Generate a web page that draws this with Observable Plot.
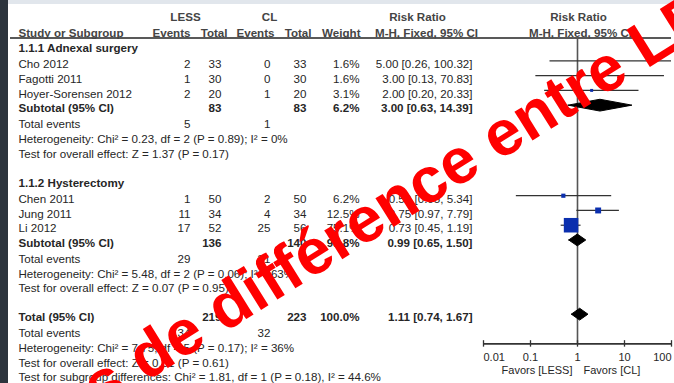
<!DOCTYPE html>
<html>
<head>
<meta charset="utf-8">
<script src="https://cdn.jsdelivr.net/npm/d3@7"></script>
<script src="https://cdn.jsdelivr.net/npm/@observablehq/plot@0.6"></script>
<style>
  html, body { margin: 0; padding: 0; background: #fff; }
  #wrap { position: relative; width: 674px; height: 383px; overflow: hidden; background: #fff; }
  #chart { position: absolute; left: 0; top: 0; }
  #band { position: absolute; left: 0; top: 0; width: 674px; height: 4px; background: #e1e6ec; }
  #strip { position: absolute; left: 0; top: 0; width: 8px; height: 383px; background: #2c343d; }
  #stamp { position: absolute; left: 0; top: 0; pointer-events: none; }
</style>
</head>
<body>
<div id="wrap">
  <div id="chart"></div>
  <div id="band"></div>
  <div id="strip"></div>
  <svg id="stamp" width="674" height="383"></svg>
</div>
<script>
// ---- Study-level data: LESS vs CL ----
const studies = ["Cho 2012", "Fagotti 2011", "Hoyer-Sorensen 2012", "Chen 2011", "Jung 2011", "Li 2012"];
const studyGroup = [0, 0, 0, 1, 1, 1];
const lessEvents = [2, 1, 2, 1, 11, 17];
const lessTotal = [33, 30, 20, 50, 34, 52];
const clEvents = [0, 0, 1, 2, 4, 25];
const clTotal = [33, 30, 20, 50, 34, 56];
const weight = [1.6, 1.6, 3.1, 6.2, 12.5, 75.1];
const rr = [5.00, 3.00, 2.00, 0.50, 2.75, 0.73];
const rrLow = [0.26, 0.13, 0.20, 0.05, 0.97, 0.45];
const rrHigh = [100.32, 70.83, 20.33, 5.34, 7.79, 1.19];

// ---- Subgroups ----
const groups = ["1.1.1 Adnexal surgery", "1.1.2 Hysterectomy"];
const groupLessTotal = [83, 136];
const groupClTotal = [83, 140];
const groupLessEvents = [5, 29];
const groupClEvents = [1, 31];
const groupWeight = [6.2, 93.8];
const groupRR = [3.00, 0.99];
const groupLow = [0.63, 0.65];
const groupHigh = [14.39, 1.50];
const groupHet = [
  "Heterogeneity: Chi² = 0.23, df = 2 (P = 0.89); I² = 0%",
  "Heterogeneity: Chi² = 5.48, df = 2 (P = 0.06); I² = 63%"
];
const groupTest = [
  "Test for overall effect: Z = 1.37 (P = 0.17)",
  "Test for overall effect: Z = 0.07 (P = 0.95)"
];

// ---- Pooled result ----
const totalLessN = 219, totalClN = 223, totalWeight = 100.0;
const totalRR = 1.11, totalLow = 0.74, totalHigh = 1.67;
const totalLessEvents = 34, totalClEvents = 32;
const totalHet = "Heterogeneity: Chi² = 7.75, df = 5 (P = 0.17); I² = 36%";
const totalTest = "Test for overall effect: Z = 0.51 (P = 0.61)";
const subgroupTest = "Test for subgroup differences: Chi² = 1.81, df = 1 (P = 0.18), I² = 44.6%";

// ---- Headers and axis labels ----
const headerTop = ["LESS", "CL", "Risk Ratio", "Risk Ratio"];
const headerCols = ["Study or Subgroup", "Events", "Total", "Events", "Total", "Weight", "M-H, Fixed, 95% CI", "M-H, Fixed, 95% CI"];
const axisTicks = [0.01, 0.1, 1, 10, 100];
const axisTickLabels = ["0.01", "0.1", "1", "10", "100"];
const favorLabels = ["Favors [LESS]", "Favors [CL]"];
const stampLead = "Pas de";
const stampRest = "différence entre LESS et CL";

// ---- Row layout (in line slots) ----
const fmt = v => v.toFixed(2);
const ci = (m, l, h) => `${fmt(m)} [${fmt(l)}, ${fmt(h)}]`;
const pct = w => w.toFixed(1) + "%";

const rows = [], studyRows = [], diamonds = [];
const hdr2Slot = 1.08;
let slot = hdr2Slot;
const add = (gap, r) => { slot += gap; const row = {slot, bold: false, ...r}; rows.push(row); return row; };

groups.forEach((g, gi) => {
  add(gi === 0 ? 1.02 : 2.0, {label: g, bold: true});
  let first = true;
  studies.forEach((s, i) => {
    if (studyGroup[i] !== gi) return;
    const r = add(first ? 1.08 : 1, {
      label: s, le: lessEvents[i], lt: lessTotal[i], ce: clEvents[i], ct: clTotal[i],
      w: pct(weight[i]), rr: ci(rr[i], rrLow[i], rrHigh[i])
    });
    first = false;
    studyRows.push({slot: r.slot, est: rr[i], lo: rrLow[i], hi: rrHigh[i], weight: weight[i]});
  });
  const sub = add(1, {
    label: "Subtotal (95% CI)", bold: true, lt: groupLessTotal[gi], ct: groupClTotal[gi],
    w: pct(groupWeight[gi]), rr: ci(groupRR[gi], groupLow[gi], groupHigh[gi])
  });
  diamonds.push({slot: sub.slot, est: groupRR[gi], lo: groupLow[gi], hi: groupHigh[gi]});
  add(1.06, {label: "Total events", le: groupLessEvents[gi], ce: groupClEvents[gi]});
  add(1, {label: groupHet[gi]});
  add(1, {label: groupTest[gi]});
});
const tot = add(1.97, {
  label: "Total (95% CI)", bold: true, lt: totalLessN, ct: totalClN,
  w: pct(totalWeight), rr: ci(totalRR, totalLow, totalHigh)
});
diamonds.push({slot: tot.slot, est: totalRR, lo: totalLow, hi: totalHigh});
add(1.06, {label: "Total events", le: totalLessEvents, ce: totalClEvents});
add(1, {label: totalHet});
add(1, {label: totalTest});
add(0.98, {label: subgroupTest});

const ruleSlot = 1.39;
const axisSlot = tot.slot + 1.78;
const diamondHalf = 0.4;
const diamondPts = diamonds.flatMap((d, k) => [
  {x: d.lo, y: d.slot, k}, {x: d.est, y: d.slot - diamondHalf, k},
  {x: d.hi, y: d.slot, k}, {x: d.est, y: d.slot + diamondHalf, k}, {x: d.lo, y: d.slot, k}
]);
const forestDy = -3.5; // graphics sit a little above the text midline

// ---- Text columns ----
const ML = 10;
const ink = "#262626";
const headInk = "#444";
function column(field, px, anchor) {
  const opts = bold => ({y: "slot", text: field, frameAnchor: "left", dx: px - ML, textAnchor: anchor,
    fontWeight: bold ? "bold" : "normal", fill: ink});
  return [
    Plot.text(rows.filter(r => r.bold && r[field] != null), opts(true)),
    Plot.text(rows.filter(r => !r.bold && r[field] != null), opts(false))
  ];
}
const topPos = [[185, "middle"], [269, "middle"], [417, "middle"]];
const colPos = [[18, "start"], [190, "end"], [227, "end"], [274, "end"], [311, "end"], [360, "end"], [426, "middle"]];
const headerMarks = [
  ...topPos.map(([px, a], i) => Plot.text([headerTop[i]], {y: 0, frameAnchor: "left", dx: px - ML, textAnchor: a, fontWeight: "bold", fill: headInk})),
  Plot.text([headerTop[3]], {x: 1, y: 0, dx: 1, fontWeight: "bold", fill: headInk}),
  ...colPos.map(([px, a], i) => Plot.text([headerCols[i]], {y: hdr2Slot, frameAnchor: "left", dx: px - ML, textAnchor: a, fontWeight: "bold", fill: headInk})),
  Plot.text([headerCols[7]], {x: 1, y: hdr2Slot, dx: 3, fontWeight: "bold", fill: headInk})
];

const tickAnchor = (d, i) => i === 0 ? "start" : i === axisTicks.length - 1 ? "end" : "middle";

const chart = Plot.plot({
  width: 674,
  height: 383,
  marginLeft: ML,
  marginRight: 3,
  marginTop: 0,
  marginBottom: 0,
  style: {fontFamily: "'Liberation Sans', Arial, sans-serif", fontSize: "11.6px", background: "transparent", color: ink},
  x: {type: "log", domain: [0.01, 100], range: [483, 671], clamp: true, axis: null},
  y: {type: "linear", domain: [0, 25], range: [17, 17 + 25 * 14.75], axis: null},
  r: {type: "sqrt", domain: [0, 75.1], range: [0, 8.2]},
  marks: [
    Plot.ruleY([ruleSlot], {stroke: "#222", strokeWidth: 1.4}),
    Plot.ruleX([1], {y1: ruleSlot, y2: axisSlot, stroke: "#555", strokeWidth: 1.6}),
    ...headerMarks,
    ...column("label", 18, "start"),
    ...column("le", 190, "end"),
    ...column("lt", 221, "end"),
    ...column("ce", 270, "end"),
    ...column("ct", 306, "end"),
    ...column("w", 359, "end"),
    ...column("rr", 472, "end"),
    Plot.ruleY(studyRows, {y: "slot", x1: "lo", x2: "hi", dy: forestDy, stroke: "#333", strokeWidth: 1.2}),
    Plot.dot(studyRows, {x: "est", y: "slot", dy: forestDy, r: "weight", symbol: "square", fill: "#0b2fae", stroke: null}),
    Plot.line(diamondPts, {x: "x", y: "y", z: "k", dy: forestDy, fill: "#000", stroke: "#000", strokeWidth: 1}),
    Plot.ruleY([axisSlot], {x1: 0.01, x2: 100, stroke: "#333", strokeWidth: 1.6}),
    Plot.ruleX(axisTicks, {x: d => d, y1: axisSlot - 0.22, y2: axisSlot + 0.22, stroke: "#333", strokeWidth: 1.3}),
    ...axisTicks.map((t, i) => Plot.text([t], {x: d => d, y: axisSlot + 0.9, text: () => axisTickLabels[i], textAnchor: tickAnchor(t, i), fill: ink, fontSize: 11})),
    Plot.text([favorLabels[0]], {x: 1, y: axisSlot + 1.8, dx: -5, textAnchor: "end", fill: ink, fontSize: 11}),
    Plot.text([favorLabels[1]], {x: 1, y: axisSlot + 1.8, dx: 6, textAnchor: "start", fill: ink, fontSize: 11})
  ]
});
document.getElementById("chart").appendChild(chart);

// ---- Red diagonal annotation across the plot ----
const stamp = d3.select("#stamp");
const angle = 32, fontPx = 64;
const ax = 224, ay = 333; // baseline start of "différence"
const spaceW = 0.278 * fontPx;
const rad = angle * Math.PI / 180;
const lx = ax - spaceW * Math.cos(rad), ly = ay + spaceW * Math.sin(rad);
const stampStyle = sel => sel
  .attr("font-family", "'Liberation Sans', Arial, sans-serif")
  .attr("font-weight", "bold").attr("font-size", fontPx)
  .attr("fill", "#ff0000");
stamp.append("text").call(stampStyle)
  .attr("x", lx).attr("y", ly).attr("text-anchor", "end")
  .attr("transform", `rotate(${-angle} ${lx} ${ly})`)
  .text(stampLead);
stamp.append("text").call(stampStyle)
  .attr("x", ax).attr("y", ay).attr("text-anchor", "start")
  .attr("transform", `rotate(${-angle} ${ax} ${ay})`)
  .text(stampRest);
</script>
</body>
</html>
